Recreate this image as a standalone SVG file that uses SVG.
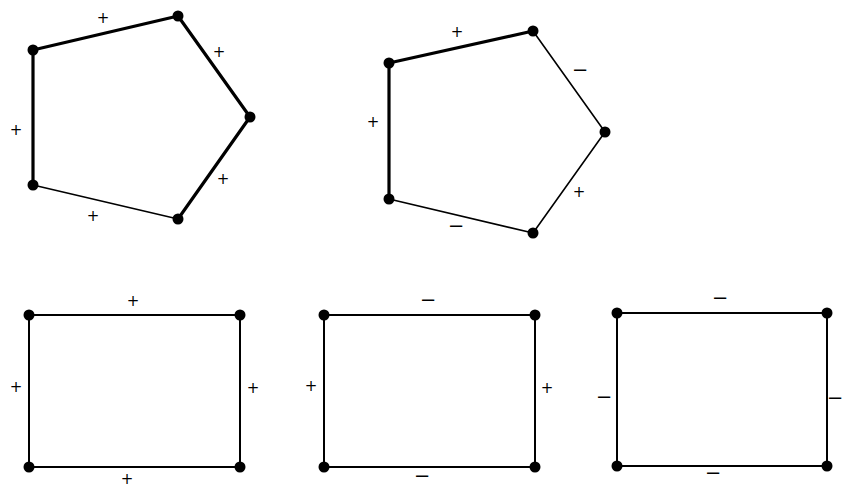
<svg xmlns="http://www.w3.org/2000/svg" width="842" height="487" viewBox="0 0 842 487">
<style>
.thick{stroke:#000;stroke-width:3.2;fill:none;stroke-linecap:round}
.thin{stroke:#000;stroke-width:1.6;fill:none;stroke-linecap:round}
.mid{stroke:#000;stroke-width:2;fill:none;stroke-linecap:round}
.v{fill:#000}
.lbl{font-family:"DejaVu Sans","Liberation Sans",sans-serif;font-size:15px;fill:#000;text-anchor:middle;dominant-baseline:central}
.mn{font-family:"Liberation Sans",Arial,sans-serif;font-size:22px;fill:#000;text-anchor:middle;dominant-baseline:central}
</style>
<rect width="842" height="487" fill="#fff"/>
<g id="connectors">
<line class="thick" x1="33" y1="50" x2="33" y2="185"/>
<line class="thick" x1="33" y1="50" x2="178" y2="16"/>
<line class="thick" x1="178" y1="16" x2="250" y2="117"/>
<line class="thick" x1="250" y1="117" x2="178" y2="219"/>
<line class="thin" x1="33" y1="185" x2="178" y2="219"/>
<line class="thick" x1="389" y1="63" x2="389" y2="199"/>
<line class="thick" x1="389" y1="63" x2="533" y2="31"/>
<line class="thin" x1="533" y1="31" x2="605" y2="132"/>
<line class="thin" x1="605" y1="132" x2="533" y2="233"/>
<line class="thin" x1="389" y1="199" x2="533" y2="233"/>
<line class="mid" x1="29" y1="315" x2="240" y2="315"/>
<line class="mid" x1="240" y1="315" x2="240" y2="467"/>
<line class="mid" x1="29" y1="467" x2="240" y2="467"/>
<line class="mid" x1="29" y1="315" x2="29" y2="467"/>
<line class="mid" x1="324" y1="315" x2="535" y2="315"/>
<line class="mid" x1="535" y1="315" x2="535" y2="467"/>
<line class="mid" x1="324" y1="467" x2="535" y2="467"/>
<line class="mid" x1="324" y1="315" x2="324" y2="467"/>
<line class="mid" x1="617" y1="313" x2="827" y2="313"/>
<line class="mid" x1="827" y1="313" x2="827" y2="466"/>
<line class="mid" x1="617" y1="466" x2="827" y2="466"/>
<line class="mid" x1="617" y1="313" x2="617" y2="466"/>
</g>
<g id="labels">
<text class="lbl" x="103" y="18">+</text>
<text class="lbl" x="219" y="52">+</text>
<text class="lbl" x="16" y="130">+</text>
<text class="lbl" x="223" y="179">+</text>
<text class="lbl" x="93" y="216">+</text>
<text class="lbl" x="457" y="32">+</text>
<text class="lbl" x="373" y="122">+</text>
<text class="lbl" x="579" y="192">+</text>
<text class="lbl" x="133" y="301">+</text>
<text class="lbl" x="16" y="387">+</text>
<text class="lbl" x="253" y="388">+</text>
<text class="lbl" x="127" y="479">+</text>
<text class="lbl" x="311" y="386">+</text>
<text class="lbl" x="547" y="388">+</text>
<text class="mn" x="580" y="68">–</text>
<text class="mn" x="456" y="224">–</text>
<text class="mn" x="428" y="298">–</text>
<text class="mn" x="422" y="474">–</text>
<text class="mn" x="720" y="296">–</text>
<text class="mn" x="604" y="395">–</text>
<text class="mn" x="835" y="396">–</text>
<text class="mn" x="713" y="471">–</text>
</g>
<g id="v1"><circle class="v" cx="33" cy="50" r="5.5"/></g>
<g id="v2"><circle class="v" cx="178" cy="16" r="5.5"/></g>
<g id="v3"><circle class="v" cx="250" cy="117" r="5.5"/></g>
<g id="v4"><circle class="v" cx="178" cy="219" r="5.5"/></g>
<g id="v5"><circle class="v" cx="33" cy="185" r="5.5"/></g>
<g id="w1"><circle class="v" cx="389" cy="63" r="5.5"/></g>
<g id="w2"><circle class="v" cx="533" cy="31" r="5.5"/></g>
<g id="w3"><circle class="v" cx="605" cy="132" r="5.5"/></g>
<g id="w4"><circle class="v" cx="533" cy="233" r="5.5"/></g>
<g id="w5"><circle class="v" cx="389" cy="199" r="5.5"/></g>
<g id="r1a"><circle class="v" cx="29" cy="315" r="5.5"/></g>
<g id="r1b"><circle class="v" cx="240" cy="315" r="5.5"/></g>
<g id="r1c"><circle class="v" cx="240" cy="467" r="5.5"/></g>
<g id="r1d"><circle class="v" cx="29" cy="467" r="5.5"/></g>
<g id="r2a"><circle class="v" cx="324" cy="315" r="5.5"/></g>
<g id="r2b"><circle class="v" cx="535" cy="315" r="5.5"/></g>
<g id="r2c"><circle class="v" cx="535" cy="467" r="5.5"/></g>
<g id="r2d"><circle class="v" cx="324" cy="467" r="5.5"/></g>
<g id="r3a"><circle class="v" cx="617" cy="313" r="5.5"/></g>
<g id="r3b"><circle class="v" cx="827" cy="313" r="5.5"/></g>
<g id="r3c"><circle class="v" cx="827" cy="466" r="5.5"/></g>
<g id="r3d"><circle class="v" cx="617" cy="466" r="5.5"/></g>
</svg>
